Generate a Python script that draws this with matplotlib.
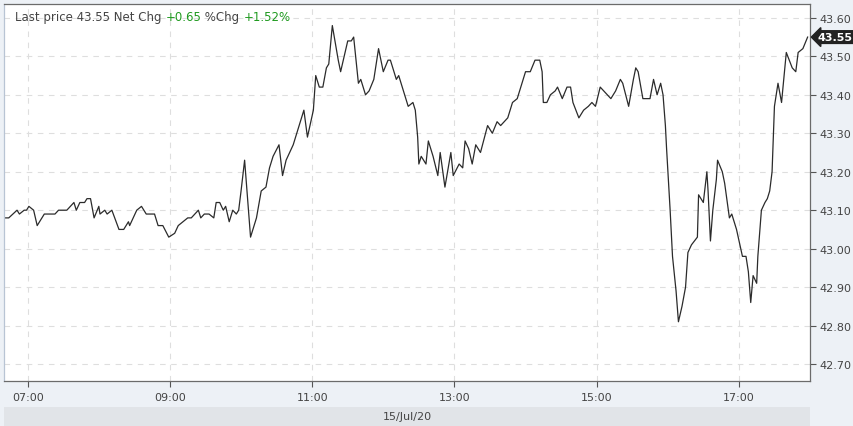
import matplotlib
matplotlib.use("Agg")
import matplotlib.pyplot as plt
import matplotlib.dates as mdates
import pandas as pd

# DATA------------------------------------------------------------------------------------------------------------------
day = "2020-07-15"
times = [
    "06:41", "06:44", "06:51", "06:53", "06:57", "06:59", "07:01", "07:05", "07:08", "07:12",
    "07:14", "07:23", "07:26", "07:33", "07:39", "07:41", "07:44", "07:48", "07:50", "07:53",
    "07:56", "08:00", "08:01", "08:05", "08:07", "08:11", "08:17", "08:21", "08:25", "08:26",
    "08:32", "08:36", "08:40", "08:47", "08:50", "08:54", "08:59", "09:04", "09:07", "09:11",
    "09:15", "09:18", "09:24", "09:26", "09:29", "09:33", "09:37", "09:39", "09:42", "09:45",
    "09:47", "09:50", "09:53", "09:56", "09:58", "10:00", "10:03", "10:08", "10:13", "10:17",
    "10:21", "10:24", "10:27", "10:32", "10:35", "10:38", "10:44", "10:46", "10:49", "10:53",
    "10:56", "11:01", "11:03", "11:06", "11:09", "11:12", "11:14", "11:17", "11:22", "11:24",
    "11:30", "11:33", "11:35", "11:39", "11:41", "11:45", "11:48", "11:52", "11:56", "12:00",
    "12:04", "12:06", "12:11", "12:13", "12:19", "12:21", "12:25", "12:27", "12:29", "12:30",
    "12:32", "12:36", "12:38", "12:42", "12:46", "12:48", "12:52", "12:57", "12:59", "13:04",
    "13:07", "13:09", "13:12", "13:15", "13:18", "13:22", "13:28", "13:32", "13:36", "13:39",
    "13:45", "13:49", "13:53", "13:56", "14:00", "14:04", "14:08", "14:12", "14:14", "14:15",
    "14:18", "14:21", "14:25", "14:27", "14:31", "14:35", "14:38", "14:40", "14:45", "14:49",
    "14:53", "14:56", "14:59", "15:03", "15:09", "15:12", "15:16", "15:20", "15:22", "15:27",
    "15:31", "15:33", "15:35", "15:39", "15:45", "15:48", "15:51", "15:54", "15:56", "15:58",
    "15:59", "16:02", "16:04", "16:07", "16:09", "16:12", "16:15", "16:17", "16:20", "16:25",
    "16:26", "16:30", "16:33", "16:34", "16:36", "16:38", "16:41", "16:42", "16:46", "16:48",
    "16:52", "16:54", "16:58", "17:03", "17:06", "17:08", "17:10", "17:12", "17:15", "17:16",
    "17:19", "17:22", "17:24", "17:26", "17:28", "17:30", "17:33", "17:36", "17:40", "17:45",
    "17:48", "17:50", "17:54", "17:58",
]
prices = [
    43.08, 43.08, 43.10, 43.09, 43.10, 43.10, 43.11, 43.10, 43.06, 43.08,
    43.09, 43.09, 43.10, 43.10, 43.12, 43.10, 43.12, 43.12, 43.13, 43.13,
    43.08, 43.11, 43.09, 43.10, 43.09, 43.10, 43.05, 43.05, 43.07, 43.06,
    43.10, 43.11, 43.09, 43.09, 43.06, 43.06, 43.03, 43.04, 43.06, 43.07,
    43.08, 43.08, 43.10, 43.08, 43.09, 43.09, 43.08, 43.12, 43.12, 43.10,
    43.11, 43.07, 43.10, 43.09, 43.10, 43.15, 43.23, 43.03, 43.08, 43.15,
    43.16, 43.21, 43.24, 43.27, 43.19, 43.23, 43.27, 43.29, 43.32, 43.36,
    43.29, 43.36, 43.45, 43.42, 43.42, 43.47, 43.48, 43.58, 43.49, 43.46,
    43.54, 43.54, 43.55, 43.43, 43.44, 43.40, 43.41, 43.44, 43.52, 43.46,
    43.49, 43.49, 43.44, 43.45, 43.39, 43.37, 43.38, 43.36, 43.29, 43.22,
    43.24, 43.22, 43.28, 43.24, 43.19, 43.25, 43.16, 43.25, 43.19, 43.22,
    43.21, 43.28, 43.26, 43.22, 43.27, 43.25, 43.32, 43.30, 43.33, 43.32,
    43.34, 43.38, 43.39, 43.42, 43.46, 43.46, 43.49, 43.49, 43.46, 43.38,
    43.38, 43.40, 43.41, 43.42, 43.39, 43.42, 43.42, 43.38, 43.34, 43.36,
    43.37, 43.38, 43.37, 43.42, 43.40, 43.39, 43.41, 43.44, 43.43, 43.37,
    43.44, 43.47, 43.46, 43.39, 43.39, 43.44, 43.40, 43.43, 43.40, 43.32,
    43.26, 43.10, 42.98, 42.89, 42.81, 42.85, 42.90, 42.99, 43.01, 43.03,
    43.14, 43.12, 43.20, 43.15, 43.02, 43.10, 43.18, 43.23, 43.20, 43.17,
    43.08, 43.09, 43.05, 42.98, 42.98, 42.94, 42.86, 42.93, 42.91, 42.98,
    43.10, 43.12, 43.13, 43.15, 43.20, 43.37, 43.43, 43.38, 43.51, 43.47,
    43.46, 43.51, 43.52, 43.55,
]
last_price = 43.55
net_chg = "+0.65"
pct_chg = "+1.52%"
y_ticks = [42.70, 42.80, 42.90, 43.00, 43.10, 43.20, 43.30, 43.40, 43.50, 43.60]
x_ticks = ["07:00", "09:00", "11:00", "13:00", "15:00", "17:00"]
date_label = "15/Jul/20"

# PLOT------------------------------------------------------------------------------------------------------------------
ts = pd.to_datetime([day + " " + t for t in times])

fig = plt.figure(figsize=(8.54, 4.27), dpi=100)
fig.patch.set_facecolor("#edf1f6")
ax = fig.add_axes([4 / 854, 45 / 427, 806 / 854, 377 / 427])
ax.set_facecolor("white")

ax.plot(ts, prices, color="#2b2b2b", lw=0.9)

ax.set_xlim(pd.Timestamp(day + " 06:40"), pd.Timestamp(day + " 18:00"))
ax.set_ylim(42.656, 43.636)

ax.yaxis.tick_right()
ax.set_yticks(y_ticks)
ax.set_yticklabels(["%.2f" % v for v in y_ticks])
ax.set_xticks(pd.to_datetime([day + " " + t for t in x_ticks]))
ax.xaxis.set_major_formatter(mdates.DateFormatter("%H:%M"))
ax.tick_params(axis="both", labelsize=8, colors="#555555", labelcolor="#444444", length=4, width=0.8)
ax.tick_params(axis="x", pad=4)
ax.tick_params(axis="y", pad=3)

ax.grid(True, color="#dedede", ls=(0, (5, 5)), lw=0.8)
for s in ax.spines.values():
    s.set_color("#6b6b6b")
    s.set_linewidth(0.9)
ax.spines["left"].set_color("#b8c4d4")

# header text inside the plot
hdr = 8.5
t1 = ax.text(0.014, 0.967, "Last price %.2f Net Chg " % last_price, transform=ax.transAxes,
             fontsize=hdr, color="#444444", va="center", ha="left")
t2 = ax.annotate(net_chg, xy=(1, 0), xycoords=t1, va="bottom", ha="left", fontsize=hdr, color="#1f9a1f")
t3 = ax.annotate(" %Chg ", xy=(1, 0), xycoords=t2, va="bottom", ha="left", fontsize=hdr, color="#444444")
ax.annotate(pct_chg, xy=(1, 0), xycoords=t3, va="bottom", ha="left", fontsize=hdr, color="#1f9a1f")

# last price marker on the right axis
ax.annotate("%.2f" % last_price, xy=(1.0, last_price), xycoords=("axes fraction", "data"),
            xytext=(8, 0), textcoords="offset pixels", ha="left", va="center",
            fontsize=8, color="white", fontweight="bold",
            bbox=dict(boxstyle="larrow,pad=0.12", fc="#222222", ec="#222222"),
            annotation_clip=False)

# date band at the bottom
band = fig.add_axes([4 / 854, 0, 806 / 854, 19 / 427])
band.set_facecolor("#e1e4e8")
band.set_xticks([])
band.set_yticks([])
for s in band.spines.values():
    s.set_visible(False)
band.text(0.5, 0.5, date_label, ha="center", va="center", fontsize=8, color="#444444")

fig.savefig("out.png", dpi=100, facecolor=fig.get_facecolor())
